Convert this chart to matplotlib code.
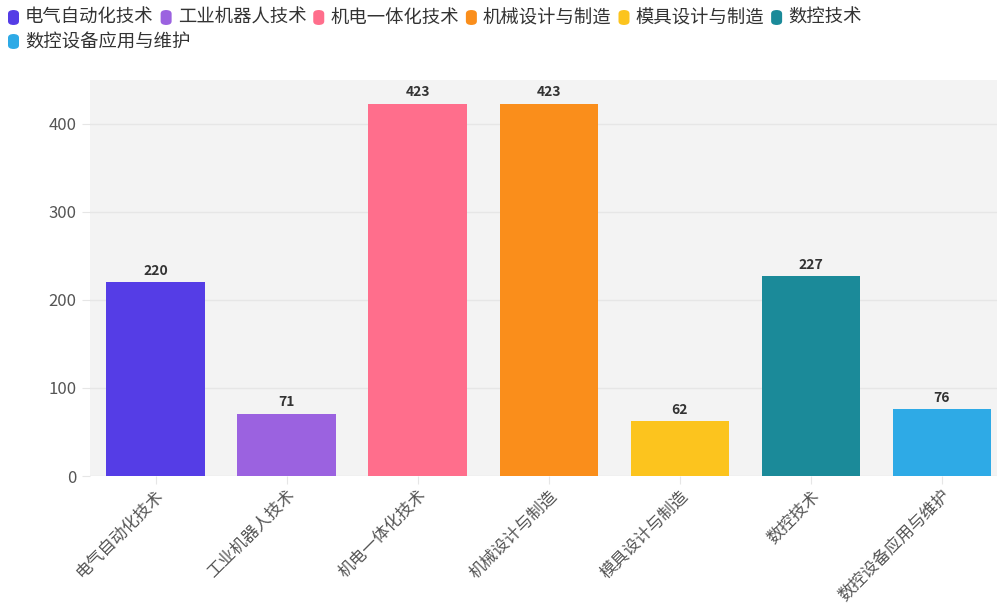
import matplotlib
matplotlib.use("Agg")
import matplotlib.pyplot as plt
from matplotlib.patches import FancyBboxPatch

plt.rcParams["font.family"] = ["Noto Sans CJK SC", "DejaVu Sans"]

majors = ["电气自动化技术", "工业机器人技术", "机电一体化技术", "机械设计与制造",
          "模具设计与制造", "数控技术", "数控设备应用与维护"]
counts = [220, 71, 423, 423, 62, 227, 76]
colors = ["#553de6", "#9b62e0", "#ff6e8c", "#fa8e1b", "#fcc41e", "#1b8a99", "#2eaae6"]

fig = plt.figure(figsize=(9.97, 6.03), dpi=100)
ax = fig.add_axes([0.0903, 0.2106, 0.920, 0.657])
ax.set_facecolor("#f3f3f3")

xs = list(range(len(majors)))
bars = ax.bar(xs, counts, width=0.75, color=colors, zorder=3)
for x, v in zip(xs, counts):
    ax.text(x, v + 5, str(v), ha="center", va="bottom", fontsize=10,
            fontweight="bold", color="#333333", zorder=4)

ax.set_xlim(-0.5, len(majors) - 0.5)
ax.set_ylim(0, 450)
ax.set_yticks([0, 100, 200, 300, 400])
ax.grid(axis="y", color="#e6e6e6", lw=1, zorder=0)
for s in ax.spines.values():
    s.set_visible(False)
ax.tick_params(axis="y", length=6, color="#e6e6e6", labelsize=12,
               labelcolor="#555555", pad=4)
ax.tick_params(axis="x", length=6, color="#e6e6e6", labelsize=12,
               labelcolor="#555555", pad=2)
ax.set_xticks(xs)
ax.set_xticklabels(majors, rotation=45, ha="right", rotation_mode="anchor")

# legend laid out left to right, wrapping after the sixth entry
fig.canvas.draw()
renderer = fig.canvas.get_renderer()
W, H = fig.bbox.width, fig.bbox.height
x0, y0 = 8, 18
x, y = x0, y0
for i, (name, c) in enumerate(zip(majors, colors)):
    if i == 6:
        x, y = x0, y0 + 24
    box = FancyBboxPatch((x / W, (H - y - 7) / H), 11 / W, 15 / H,
                         boxstyle="round,pad=0,rounding_size=0.006",
                         transform=fig.transFigure, color=c, lw=0)
    fig.add_artist(box)
    t = fig.text((x + 17) / W, (H - y) / H, name, fontsize=13.2,
                 color="#333333", va="center", ha="left")
    ext = t.get_window_extent(renderer)
    x = ext.x1 + 7

fig.savefig("out.png", dpi=100)
